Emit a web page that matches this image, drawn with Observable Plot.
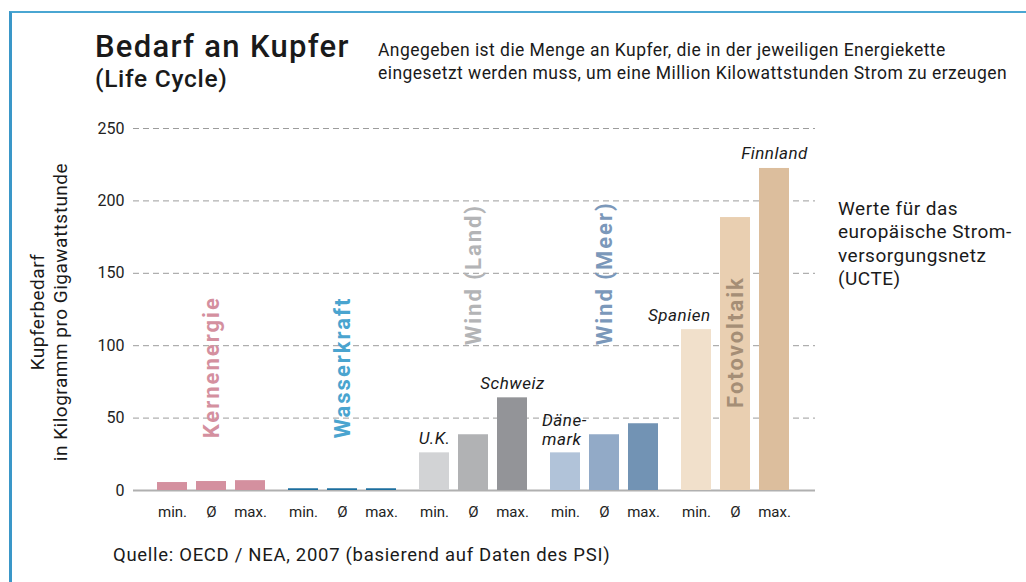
<!DOCTYPE html>
<html><head><meta charset="utf-8">
<script src="https://cdn.jsdelivr.net/npm/d3@7"></script>
<script src="https://cdn.jsdelivr.net/npm/@observablehq/plot@0.6"></script>
<style>
body{margin:0;background:#fff;}
#root{position:relative;width:1026px;height:582px;overflow:hidden;font-family:Roboto, sans-serif;color:#1a1a1a;background:#fff;}
.t{position:absolute;white-space:nowrap;line-height:1;}
.layer{position:absolute;left:0;top:0;}
#frame{position:absolute;left:9px;top:11px;right:0;bottom:-5px;border-top:2px solid #4aa6d2;border-left:3px solid #3a97c8;}
</style></head><body><div id="root"><div id="frame"></div></div>
<script>
// ---- data ----
const groups = ["Kernenergie", "Wasserkraft", "Wind (Land)", "Wind (Meer)", "Fotovoltaik"];
const stats = ["min.", "Ø", "max."];
const minValues = [5.5, 1.2, 26.0, 26.0, 111.1];
const avgValues = [6.2, 1.2, 38.5, 38.5, 188.5];
const maxValues = [6.8, 1.2, 64.0, 46.1, 222.4];
const yTicks = [0, 50, 100, 150, 200, 250];
const groupLabelAt = [36, 36, 100.5, 100.5, 57];
const notes = [
  {group: "Wind (Land)", stat: "min.", text: "U.K."},
  {group: "Wind (Land)", stat: "max.", text: "Schweiz"},
  {group: "Wind (Meer)", stat: "min.", text: "Däne-\nmark"},
  {group: "Fotovoltaik", stat: "min.", text: "Spanien"},
  {group: "Fotovoltaik", stat: "max.", text: "Finnland"}
];
// ---- styles ----
const barColors = [
  ["#d4909f", "#d4909f", "#d4909f"],
  ["#1c6e9e", "#1c6e9e", "#1c6e9e"],
  ["#d2d3d5", "#b1b2b4", "#939498"],
  ["#b1c3d9", "#92aac7", "#7293b4"],
  ["#f1e0cb", "#e9cfb1", "#dcbe9d"]
];
const labelColors = ["#d4909f", "#4aa4cf", "#b3b4b6", "#7b98ba", "#a58e76"];

const valuesBy = [minValues, avgValues, maxValues];
const bars = groups.flatMap((g, gi) => stats.map((s, si) => ({group: g, stat: s, value: valuesBy[si][gi], color: barColors[gi][si]})));
const groupLabels = groups.map((g, gi) => ({group: g, stat: "Ø", at: groupLabelAt[gi], color: labelColors[gi]}));
const noteData = notes.map(n => ({...n, value: bars.find(b => b.group === n.group && b.stat === n.stat).value}));

const root = document.getElementById("root");
function addText(x, baseline, text, fs, extra = "") {
  const d = document.createElement("div");
  d.className = "t";
  d.style.cssText = `left:${x}px;top:${baseline - 0.842 * fs}px;font-size:${fs}px;${extra}`;
  d.textContent = text;
  root.appendChild(d);
  return d;
}
function addRot(cx, cy, text, fs, extra = "") {
  const d = document.createElement("div");
  d.className = "t";
  d.style.cssText = `left:${cx}px;top:${cy}px;font-size:${fs}px;transform:translate(-50%,-50%) rotate(-90deg);${extra}`;
  d.textContent = text;
  root.appendChild(d);
}

const W = 1026, H = 530, MT = 128, MB = 40;

// Layer 1: y axis, grid, baseline
const p1 = Plot.plot({
  width: W, height: H, marginTop: MT, marginBottom: MB, marginLeft: 133, marginRight: W - 815,
  style: {background: "transparent", fontFamily: "Roboto, sans-serif", fontSize: "16px", color: "#222"},
  y: {domain: [0, 250], ticks: yTicks, tickSize: 0, tickPadding: 9, label: null},
  marks: [
    Plot.ruleY(yTicks.filter(v => v > 0), {stroke: "#9c9c9c", strokeDasharray: "6,4", strokeWidth: 1}),
    Plot.ruleY([0], {stroke: "#b0b0b0", strokeWidth: 2})
  ]
});
p1.classList.add("layer");
root.appendChild(p1);

const isDane = d => d.stat === "min." && d.group === "Wind (Meer)";
const isSpain = d => d.stat === "min." && d.group === "Fotovoltaik";
const noteStyle = {fx: "group", x: "stat", y: "value", text: "text", lineAnchor: "bottom", fontSize: 17, fontStyle: "italic", fill: "#1a1a1a", lineHeight: 1.08};

// Layer 2: bars per energy chain (facets)
const p2 = Plot.plot({
  width: W, height: H, marginTop: MT, marginBottom: MB, marginLeft: 146, marginRight: W - 800,
  style: {background: "transparent", fontFamily: "Roboto, sans-serif", fontSize: "15px", color: "#222", overflow: "visible"},
  fx: {domain: groups, padding: 0.021, axis: null, label: null},
  x: {domain: stats, padding: 0.225, tickSize: 0, tickPadding: 16, label: null},
  y: {domain: [0, 250], axis: null},
  color: {type: "identity"},
  marks: [
    Plot.barY(bars, {fx: "group", x: "stat", y: "value", fill: "color"}),
    Plot.text(groupLabels, {fx: "group", x: "stat", y: "at", text: "group", rotate: -90, textAnchor: "start", lineAnchor: "middle", fill: "color", fontSize: 22, fontWeight: "bold"}),
    Plot.text(noteData.filter(d => !isDane(d) && !isSpain(d)), {...noteStyle, dy: -9}),
    Plot.text(noteData.filter(isDane), {...noteStyle, dy: -8, dx: -23.5, textAnchor: "start"}),
    Plot.text(noteData.filter(isSpain), {...noteStyle, dy: -9, dx: 14, textAnchor: "end"})
  ]
});
p2.classList.add("layer");
root.appendChild(p2);
p2.querySelectorAll("text").forEach(t => {
  const s = t.textContent;
  if (groups.includes(s)) t.style.letterSpacing = "2px";
  else if (notes.some(n => n.text.replace("\n", "") === s)) t.style.letterSpacing = "0.5px";
});

// Titles & texts
addText(95, 57.5, "Bedarf an Kupfer", 31, "font-weight:500;letter-spacing:1.3px;");
addText(95, 88, "(Life Cycle)", 24.5, "font-weight:500;letter-spacing:0.7px;");
addText(378, 56.7, "Angegeben ist die Menge an Kupfer, die in der jeweiligen Energiekette", 17.5, "letter-spacing:0.45px;");
addText(378, 80, "eingesetzt werden muss, um eine Million Kilowattstunden Strom zu erzeugen", 17.5, "letter-spacing:0.45px;");
["Werte für das", "europäische Strom-", "versorgungsnetz", "(UCTE)"].forEach((s, i) => addText(838, 215 + i * 23.4, s, 19, "letter-spacing:0.5px;"));
addText(113, 561.5, "Quelle: OECD / NEA, 2007 (basierend auf Daten des PSI)", 18.5, "letter-spacing:0.7px;");
addRot(37, 312, "Kupferbedarf", 19, "letter-spacing:0.5px;");
addRot(60, 312, "in Kilogramm pro Gigawattstunde", 19, "letter-spacing:0.5px;");
</script></body></html>
